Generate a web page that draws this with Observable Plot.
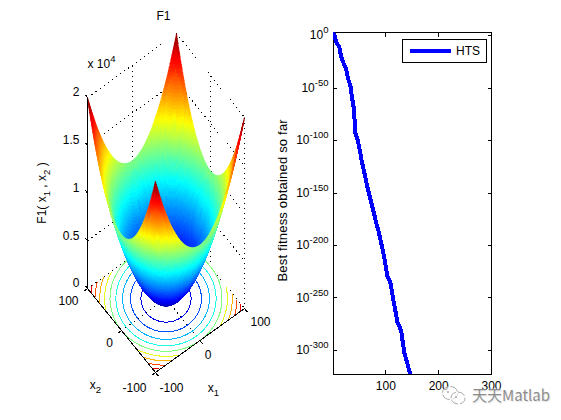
<!DOCTYPE html>
<html><head><meta charset="utf-8">
<script src="https://cdn.jsdelivr.net/npm/d3@7"></script>
<script src="https://cdn.jsdelivr.net/npm/@observablehq/plot@0.6"></script>
<style>
html,body{margin:0;padding:0;background:#fff}
#fig{position:relative;width:561px;height:420px;overflow:hidden;font-family:"Liberation Sans",Arial,sans-serif;color:#000}
#fig svg.plot-panel{position:absolute;top:0;background:transparent;overflow:visible}
#legend{position:absolute;left:402px;top:39px;width:83px;height:22px;border:1px solid #000;background:#fff;font-size:12px}
#legend i{position:absolute;left:7px;top:9px;width:41px;height:4px;background:#0000ff}
#legend span{position:absolute;left:53px;top:4px}
#wm{position:absolute;left:442px;top:384px;width:110px;height:24px;color:#8c8c8c;font:15px "Noto Sans CJK SC",sans-serif;text-shadow:0 0 2px #fff,1px 1px 1px #ddd}
#wm span{position:absolute;left:30px;top:0;white-space:nowrap;line-height:22px}
#wm svg{position:absolute;left:0;top:0}
</style></head><body>
<div id="fig"></div>
<script>
// ---- left panel data
const title = "F1";
const x1Ticks = [-100, 0, 100];
const x2Ticks = [-100, 0, 100];
const zTicks = [0, 5000, 10000, 15000, 20000];
const zTickLabels = ["0", "0.5", "1", "1.5", "2"];
const contourLevels = [2000, 4000, 6000, 8000, 10000, 12000, 14000, 16000, 18000];
const gridStep = 2;
// ---- right panel data
const iterations = [1,3,6,12,15,19,25,28,33,36,39,41,42,47,51,55,60,65,70,76,78,82,86,91,95,99,103,109,114,118,122,129,132,135,141,146,150];
const bestExponent = [2,0,-6,-11,-19,-25,-32,-40,-48,-59,-68,-81,-92,-100,-110,-121,-132,-144,-154,-166,-170,-179,-186,-197,-206,-217,-229,-236,-251,-262,-273,-281,-292,-302,-313,-322,-330];
const xTicksRight = [100, 200, 300];
const yTicksRight = [0, -50, -100, -150, -200, -250, -300];

// the function F1 drawn by the surface
const F1 = (a, b) => a * a + b * b;

// orthographic view of the 3-D box
const U = (a, b) => 0.445 * a - 0.34 * b;
const V = (a, b, z) => 0.32 * a + 0.42 * b + z * 191 / 20000;
const pt = (a, b, z) => ({u: U(a, b), v: V(a, b, z)});

// surface cells, back to front
const gridValues = d3.range(-100, 100 + gridStep / 2, gridStep);
const bands = 64;
const cellIds = [];
for (const a of gridValues.slice(0, -1)) for (const b of gridValues.slice(0, -1)) cellIds.push([a, b]);
cellIds.sort((p, q) => (0.32 * q[0] + 0.42 * q[1]) - (0.32 * p[0] + 0.42 * p[1]));
const surface = [];
cellIds.forEach(([a, b], id) => {
  const s = gridStep, zm = F1(a + s / 2, b + s / 2);
  const c = (Math.min(bands - 1, Math.floor(zm / 20000 * bands)) + 0.5) / bands * 20000;
  for (const [p, q] of [[a, b], [a + s, b], [a + s, b + s], [a, b + s]])
    surface.push({...pt(p, q, F1(p, q)), id, c});
});

// floor contours
const contours = [];
for (const L of contourLevels) {
  const r = Math.sqrt(L);
  for (let t = 0; t <= 360; t += 1.5) {
    const a = r * Math.cos(t * Math.PI / 180), b = r * Math.sin(t * Math.PI / 180);
    const inside = Math.abs(a) <= 100 && Math.abs(b) <= 100;
    contours.push(inside ? {...pt(a, b, 0), L} : {u: NaN, v: NaN, L});
  }
}

// dotted grid on back walls and floor
const seg = (a, b) => ({ax: a.u, ay: a.v, bx: b.u, by: b.v});
const dotted = [];
for (const z of zTicks) {
  dotted.push(seg(pt(-100, 100, z), pt(100, 100, z)));
  dotted.push(seg(pt(100, 100, z), pt(100, -100, z)));
}
for (const a of [0, 100]) dotted.push(seg(pt(a, 100, 0), pt(a, 100, 20000)));
for (const b of [0, -100]) dotted.push(seg(pt(100, b, 0), pt(100, b, 20000)));
dotted.push(seg(pt(0, -100, 0), pt(0, 100, 0)));
dotted.push(seg(pt(-100, 0, 0), pt(100, 0, 0)));

// solid axes and ticks
const solid = [
  seg(pt(-100, -100, 0), pt(100, -100, 0)),
  seg(pt(-100, -100, 0), pt(-100, 100, 0)),
  seg(pt(-100, 100, 0), pt(-100, 100, 20000))
];
const tk = 8;
for (const a of x1Ticks) solid.push(seg(pt(a, -100, 0), pt(a, -100 - tk, 0)));
for (const b of x2Ticks) solid.push(seg(pt(-100, b, 0), pt(-100 - tk, b, 0)));
for (const z of zTicks) solid.push(seg(pt(-100, 100, z), pt(-100, 100 + 6, z)));

// jet colour map
const jet = {type: "linear", interpolate: "rgb",
  domain: [0, 2500, 7500, 12500, 17500, 20000],
  range: ["#000080", "#0000ff", "#00ffff", "#ffff00", "#ff0000", "#800000"]};

const font = {fontFamily: "Liberation Sans, Arial, sans-serif", fontSize: 12};
const textAt = (rows, opts) => Plot.text(rows, {x: "u", y: "v", text: "t", fill: "#000", ...font, ...opts});
const x1Label = (i, dx, dy) => textAt([{...pt(x1Ticks[i], -100, 0), t: String(x1Ticks[i])}], {dx, dy});
const x2Label = (i, dx, dy) => textAt([{...pt(-100, x2Ticks[i], 0), t: String(x2Ticks[i])}], {dx, dy});

const leftW = 280;
const left = Plot.plot({
  width: leftW, height: 420, margin: 0,
  style: {background: "transparent", overflow: "visible"},
  x: {domain: [-165.5, 114.5], axis: null},
  y: {domain: [-122, 298], axis: null},
  color: jet,
  marks: [
    Plot.link(dotted, {x1: "ax", y1: "ay", x2: "bx", y2: "by", stroke: "#000", strokeWidth: 1, strokeDasharray: "1,4", shapeRendering: "crispEdges"}),
    Plot.line(contours, {x: "u", y: "v", z: "L", stroke: "L", strokeWidth: 1, shapeRendering: "crispEdges"}),
    Plot.line(surface, {x: "u", y: "v", z: "id", fill: "c", stroke: "c", strokeWidth: 0.7, curve: "linear-closed", shapeRendering: "crispEdges"}),
    Plot.link(solid, {x1: "ax", y1: "ay", x2: "bx", y2: "by", stroke: "#000", strokeWidth: 1, shapeRendering: "crispEdges"}),
    textAt(zTicks.map((z, i) => ({...pt(-100, 100, z), t: zTickLabels[i]})), {textAnchor: "end", dx: -8, dy: -5}),
    x1Label(0, 16, 16), x1Label(1, 8, 15), x1Label(2, 16, 14),
    x2Label(0, -21, 16), x2Label(1, -12, 13), x2Label(2, -19, 13),
    textAt([{...pt(-100, 100, 20000), t: "x 10^{4}"}], {textAnchor: "start", dx: 0, dy: -33}),
    textAt([{...pt(100, -100, 0), t: "x_{1}"}], {dx: -31, dy: 80}),
    textAt([{...pt(-100, 100, 0), t: "x_{2}"}], {dx: 8, dy: 97}),
    textAt([{...pt(100, 100, 20000), t: title}], {dx: -13, dy: -17}),
    textAt([{...pt(-100, 100, 10000), t: "F1( x_{1} , x_{2} )"}], {rotate: -90, dx: -45, dy: 0})
  ]
});
left.classList.add("plot-panel");
left.style.left = "0px";

const rightRows = iterations.map((n, i) => ({n, e: bestExponent[i]}));
const right = Plot.plot({
  width: 281, height: 420, marginLeft: 53, marginRight: 70, marginTop: 32, marginBottom: 46,
  style: {background: "transparent", overflow: "visible", fontFamily: font.fontFamily, fontSize: "12px", color: "#000"},
  x: {domain: [1, 300]},
  y: {domain: [-322.9, 2.9]},
  marks: [
    Plot.frame({stroke: "#000", shapeRendering: "crispEdges"}),
    Plot.axisX({anchor: "bottom", ticks: xTicksRight, tickSize: -4, tickPadding: 11, label: null, tickFormat: d => String(d), fontSize: 12, shapeRendering: "crispEdges"}),
    Plot.axisX({anchor: "top", ticks: xTicksRight, tickSize: -4, label: null, tickFormat: () => "", shapeRendering: "crispEdges"}),
    Plot.axisY({anchor: "left", ticks: yTicksRight, tickSize: -4, tickPadding: 9, tickFormat: d => `10^{${d}}`, fontSize: 12, label: null, shapeRendering: "crispEdges"}),
    Plot.axisY({anchor: "right", ticks: yTicksRight, tickSize: -4, label: null, tickFormat: () => "", shapeRendering: "crispEdges"}),
    Plot.text(["Best fitness obtained so far"], {x: -95, y: -157, rotate: -90, fill: "#000", fontFamily: font.fontFamily, fontSize: 13, letterSpacing: "0.2px"}),
    Plot.line(rightRows, {x: "n", y: "e", stroke: "#0000ff", strokeWidth: 4, clip: true, shapeRendering: "crispEdges"})
  ]
});
right.classList.add("plot-panel");
right.style.left = leftW + "px";

const fig = document.getElementById("fig");
fig.append(left, right);
fig.querySelectorAll("text").forEach(el => {
  if (el.textContent.startsWith("Best fitness")) el.style.letterSpacing = "0.2px";
});

// turn ^{..} and _{..} into raised / lowered runs of the same text element
fig.querySelectorAll("text").forEach(el => {
  const targets = el.querySelectorAll("tspan").length ? [...el.querySelectorAll("tspan")] : [el];
  targets.forEach(node => {
    const s = node.textContent;
    if (!/[\^_]\{/.test(s)) return;
    node.textContent = "";
    let pending = 0;
    s.split(/([\^_]\{[^}]*\})/).filter(Boolean).forEach(part => {
      const t = document.createElementNS("http://www.w3.org/2000/svg", "tspan");
      const m = part.match(/^([\^_])\{(.*)\}$/);
      if (m) {
        const up = m[1] === "^" ? -6 : 4;
        t.textContent = m[2];
        t.setAttribute("font-size", "9.5");
        t.setAttribute("dy", up + pending);
        pending = -up;
      } else {
        t.textContent = part;
        if (pending) t.setAttribute("dy", pending);
        pending = 0;
      }
      node.appendChild(t);
    });
  });
});

// legend
const legend = document.createElement("div");
legend.id = "legend";
legend.innerHTML = "<i></i><span>HTS</span>";
fig.append(legend);

// watermark
const wm = document.createElement("div");
wm.id = "wm";
wm.innerHTML = `<svg width="26" height="24"><g fill="#ffffff" fill-opacity="0.6" stroke="#aaa" stroke-width="1">
<ellipse cx="8" cy="9" rx="7.5" ry="6.5" stroke-dasharray="9,2"/>
<ellipse cx="16" cy="14" rx="7" ry="6" stroke-dasharray="8,2"/></g>
<circle cx="6" cy="8" r="1" fill="#aaa"/><circle cx="14" cy="13" r="1" fill="#aaa"/></svg><span>天天Matlab</span>`;
fig.append(wm);
</script>
</body></html>
